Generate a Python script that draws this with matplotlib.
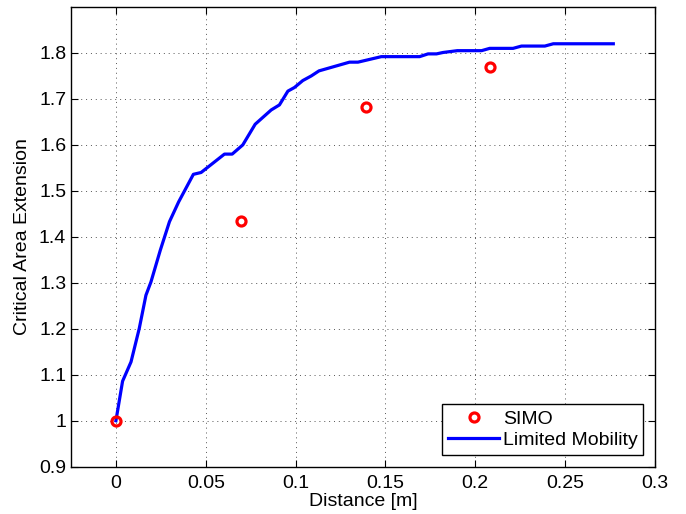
import matplotlib.pyplot as plt

plt.rcParams['font.family'] = ['Liberation Sans', 'DejaVu Sans']

# SIMO measurements
simo_x = [0.0, 0.0694, 0.1389, 0.2083]
simo_y = [1.0, 1.434, 1.682, 1.770]

# limited mobility curve
lm_x = [0.0, 0.0037, 0.0084, 0.013, 0.0167, 0.0195, 0.0247, 0.0298, 0.0349,
        0.0431, 0.0474, 0.0604, 0.0647, 0.0706, 0.0775, 0.0864, 0.091, 0.0957,
        0.0994, 0.104, 0.1087, 0.113, 0.130, 0.1347, 0.1477, 0.152, 0.169,
        0.1737, 0.1784, 0.182, 0.190, 0.2035, 0.208, 0.221, 0.2257, 0.2387,
        0.2434, 0.2768]
lm_y = [1.0, 1.086, 1.128, 1.201, 1.273, 1.302, 1.371, 1.433, 1.476,
        1.536, 1.540, 1.580, 1.580, 1.600, 1.645, 1.676, 1.687, 1.717,
        1.725, 1.740, 1.750, 1.761, 1.780, 1.780, 1.792, 1.792, 1.792,
        1.798, 1.798, 1.801, 1.805, 1.805, 1.810, 1.810, 1.815, 1.815,
        1.820, 1.820]

fig = plt.figure(figsize=(6.86, 5.14), dpi=100)
ax = fig.add_axes([0.1035, 0.092, 0.8513, 0.8944])

ax.plot(simo_x, simo_y, 'o', markersize=6.5, markerfacecolor='none',
        markeredgecolor='red', markeredgewidth=2.3, label='SIMO', zorder=3)
ax.plot(lm_x, lm_y, '-', color='blue', linewidth=2.3, label='Limited Mobility')

ax.set_xlim(-0.025, 0.3)
ax.set_ylim(0.9, 1.9)
ax.set_xticks([0, 0.05, 0.1, 0.15, 0.2, 0.25, 0.3])
ax.set_xticklabels(['0', '0.05', '0.1', '0.15', '0.2', '0.25', '0.3'])
ax.set_yticks([0.9, 1.0, 1.1, 1.2, 1.3, 1.4, 1.5, 1.6, 1.7, 1.8])
ax.set_yticklabels(['0.9', '1', '1.1', '1.2', '1.3', '1.4', '1.5', '1.6', '1.7', '1.8'])

ax.grid(True, linestyle=(0, (1, 4)), color='#555555', linewidth=0.7)
ax.tick_params(direction='in', top=True, right=True, length=5, labelsize=14)
ax.tick_params(axis='x', pad=6)
for s in ax.spines.values():
    s.set_linewidth(1.0)

ax.set_xlabel('Distance [m]', fontsize=14, labelpad=1)
ax.set_ylabel('Critical Area Extension', fontsize=14, labelpad=6)

leg = ax.legend(loc='lower right', fontsize=14, fancybox=False, framealpha=1,
                edgecolor='black', borderpad=0.3, handlelength=2.6,
                handletextpad=0.2, labelspacing=0.2, borderaxespad=0.6)
leg.get_frame().set_linewidth(1.0)

plt.savefig('out.png', dpi=100)
